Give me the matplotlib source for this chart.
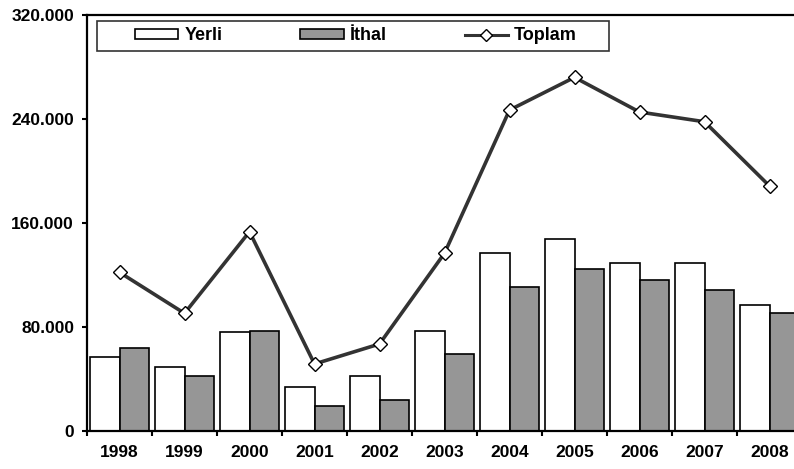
import matplotlib
matplotlib.use("Agg")
from matplotlib import pyplot as plt
from matplotlib.ticker import FuncFormatter
from matplotlib.lines import Line2D
from matplotlib.patches import Patch, Rectangle
import numpy as np

years = ['1998', '1999', '2000', '2001', '2002', '2003', '2004', '2005', '2006', '2007', '2008']
yerli = [57000, 49300, 75800, 33400, 42100, 77000, 136700, 147500, 129400, 129400, 96600]
ithal = [64000, 42400, 77000, 19000, 23700, 59100, 111000, 124300, 116100, 108600, 90400]
toplam = [122000, 90400, 153300, 51400, 66800, 136700, 247000, 272200, 245500, 238000, 188500]

plt.rcParams['font.family'] = ['Liberation Sans', 'DejaVu Sans']
plt.rcParams['font.weight'] = 'bold'

W, H = 794, 469
fig = plt.figure(figsize=(W/100, H/100), dpi=100)
ax = fig.add_axes([87/W, 1-430.7/H, 715/W, (430.7-15.3)/H])

x = np.arange(len(years))
w = 0.45
ax.bar(x - w/2, yerli, w, color='white', edgecolor='black', linewidth=1.2, zorder=2)
ax.bar(x + w/2, ithal, w, color='#969696', edgecolor='black', linewidth=1.2, zorder=2)
ax.plot(x, toplam, color='#333333', lw=2.6, marker='D', ms=7, mfc='white',
        mec='black', mew=1.0, zorder=3)

ax.set_xlim(-0.5, len(years) - 0.5)
ax.set_ylim(0, 320000)
ax.set_yticks([0, 80000, 160000, 240000, 320000])
ax.yaxis.set_major_formatter(FuncFormatter(lambda v, p: '0' if v == 0 else f'{int(v):,}'.replace(',', '.')))
ax.set_xticks(x)
ax.set_xticklabels(years)
ax.set_xticks(np.arange(-0.5, len(years)), minor=True)
ax.tick_params(axis='x', which='major', length=0, pad=10, labelsize=12.5)
ax.tick_params(axis='x', which='minor', length=3.8, width=1.5, direction='out')
ax.tick_params(axis='y', length=3.8, width=1.5, direction='out', pad=5.5, labelsize=12.5)
for lab in ax.get_xticklabels() + ax.get_yticklabels():
    lab.set_fontweight('bold')

for s in ['left', 'bottom', 'top']:
    ax.spines[s].set_linewidth(1.6)
ax.spines['right'].set_visible(False)

# legend frame drawn by hand
box = Rectangle((97/W, 1-51/H), (609-97)/W, 30/H, transform=fig.transFigure,
                facecolor='white', edgecolor='#333333', linewidth=1.2, zorder=4)
fig.patches.append(box)

handles = [Patch(facecolor='white', edgecolor='black', linewidth=1.2),
           Patch(facecolor='#969696', edgecolor='black', linewidth=1.2),
           Line2D([], [], color='#333333', lw=2.2, marker='D', ms=6.5, mfc='white', mec='black')]
leg = fig.legend(handles, ['Yerli', 'İthal', 'Toplam'], ncol=3, loc='center left',
                 bbox_to_anchor=(135/W, 1-36/H), frameon=False,
                 fontsize=13, handlelength=2.4, handleheight=0.5,
                 handletextpad=0.35, columnspacing=4.3, borderpad=0, borderaxespad=0)
leg.set_zorder(5)
for t in leg.get_texts():
    t.set_fontweight('bold')

fig.savefig('out.png', dpi=100)
